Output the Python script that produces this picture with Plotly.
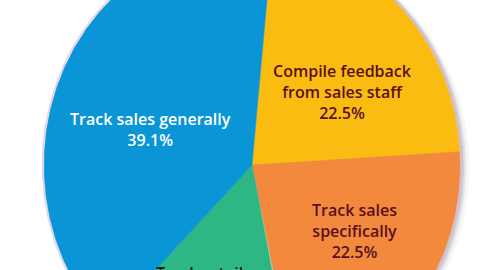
import numpy as np
import plotly.graph_objects as go

# ---- data ----
categories = ["Compile feedback<br>from sales staff", "Track sales<br>specifically",
              "Track retail<br>sales", "Track sales generally"]
values = [22.5, 22.5, 15.9, 39.1]
pct_labels = ["22.5%", "22.5%", "15.9%", "39.1%"]

# ---- style / layout ----
colors = ["#fbbc12", "#f2893c", "#2db784", "#0a95d6"]
text_colors = ["#5a0f1f", "#5a0f1f", "#1a1a1a", "#ffffff"]
W, H = 480, 270
CX, CY = 252, 165          # pie centre in plot units
RX, RY = 208, 225          # pie radii
START = 5.6                # degrees clockwise from 12 o'clock
label_r = [0.544, 0.575, 0.493, 0.514]
label_tweak = [7.4, -6.5, 14.9, -7.5]
label_anchor = ["middle", "middle", "top", "middle"]
FONT = "Open Sans"

fig = go.Figure()

# soft shadow
t = np.linspace(0, 2 * np.pi, 361)
for off, op in [(8, 0.05), (5, 0.09), (3, 0.13)]:
    fig.add_trace(go.Scatter(x=CX + off + (RX + 1) * np.sin(t), y=CY + off * 0.3 - (RY + 1) * np.cos(t),
                             fill="toself", mode="lines", line=dict(width=0),
                             fillcolor=f"rgba(60,60,80,{op})", hoverinfo="skip", showlegend=False))
# faint rim
fig.add_trace(go.Scatter(x=CX + (RX + 1.5) * np.sin(t), y=CY - (RY + 1.5) * np.cos(t),
                         mode="lines", line=dict(width=1.5, color="rgba(225,170,210,0.6)"),
                         hoverinfo="skip", showlegend=False))

total = sum(values)
ang = START
for i, v in enumerate(values):
    span = v / total * 360.0
    th = np.radians(np.linspace(ang, ang + span, 200))
    xs = np.concatenate([[CX], CX + RX * np.sin(th), [CX]])
    ys = np.concatenate([[CY], CY - RY * np.cos(th), [CY]])
    fig.add_trace(go.Scatter(x=xs, y=ys, fill="toself", mode="lines",
                             line=dict(width=0.5, color=colors[i]), fillcolor=colors[i],
                             hoverinfo="skip", showlegend=False))
    mid = np.radians(ang + span / 2 + label_tweak[i])
    lx = CX + label_r[i] * RX * np.sin(mid)
    ly = CY - label_r[i] * RY * np.cos(mid)
    fig.add_annotation(x=lx, y=ly, text=f"{categories[i]}<br>{pct_labels[i]}",
                       showarrow=False, xanchor="center", yanchor=label_anchor[i],
                       font=dict(family=FONT, size=16, color=text_colors[i], weight=600))
    ang += span

fig.update_layout(
    width=W, height=H, margin=dict(l=0, r=0, t=0, b=0),
    paper_bgcolor="white", plot_bgcolor="white",
    xaxis=dict(range=[0, W], visible=False, fixedrange=True),
    yaxis=dict(range=[H, 0], visible=False, fixedrange=True),
    showlegend=False,
)
fig.write_html("out.html", config={"displayModeBar": False})
